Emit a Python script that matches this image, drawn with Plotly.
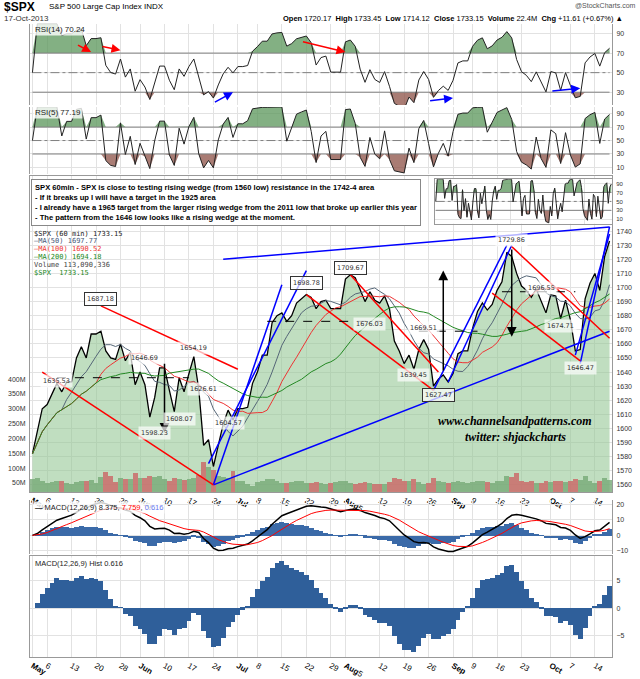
import plotly.graph_objects as go
import pandas as pd
import numpy as np

# ---------------- data ----------------
closes_may = [1582, 1597, 1614, 1617, 1625, 1632, 1626, 1633, 1633, 1650, 1658, 1650, 1667, 1667, 1669, 1655, 1650, 1649, 1660, 1648, 1654, 1631]
closes_jun = [1640, 1631, 1608, 1622, 1643, 1643, 1627, 1612, 1636, 1626, 1639, 1651, 1628, 1588, 1592, 1573, 1588, 1603, 1613, 1606]
closes_jul = [1614, 1614, 1615, 1632, 1640, 1652, 1652, 1675, 1680, 1682, 1676, 1680, 1689, 1692, 1695, 1693, 1685, 1690, 1691, 1685, 1685, 1685]
closes_aug = [1706, 1709, 1707, 1698, 1690, 1697, 1691, 1689, 1694, 1685, 1662, 1655, 1646, 1652, 1642, 1656, 1663, 1656, 1630, 1635, 1638, 1633]
closes_sep = [1639, 1653, 1655, 1655, 1671, 1683, 1689, 1684, 1688, 1698, 1704, 1725, 1722, 1710, 1701, 1698, 1693, 1699, 1691, 1682]
closes_oct = [1695, 1694, 1678, 1691, 1677, 1655, 1656, 1692, 1703, 1710, 1698, 1722, 1733]
closes = closes_may + closes_jun + closes_jul + closes_aug + closes_sep + closes_oct

volume_m = [120, 130, 110, 90, 100, 105, 110, 95, 85, 100, 110, 105, 115, 95, 140, 180, 150, 100, 130, 125, 120, 170,
            130, 135, 150, 140, 145, 120, 110, 130, 125, 115, 120, 130, 160, 260, 220, 200, 150, 140, 130, 190,
            110, 110, 80, 70, 100, 110, 120, 125, 110, 90, 95, 100, 110, 105, 95, 90, 100, 90, 85, 95, 100, 110,
            110, 90, 80, 90, 100, 95, 85, 80, 85, 100, 130, 120, 105, 110, 120, 100, 85, 90, 130, 110, 100, 95,
            100, 105, 100, 90, 100, 110, 105, 100, 95, 110, 105, 150, 140, 170, 110, 100, 105, 95, 90, 110,
            100, 105, 110, 100, 110, 120, 115, 150, 110, 95, 110, 130, 112]

tick_labels = ["<b>May</b>", "6", "13", "20", "28", "<b>Jun</b>", "10", "17", "24", "<b>Jul</b>", "8", "15", "22", "29",
               "<b>Aug</b>5", "12", "19", "26", "<b>Sep</b>", "9", "16", "23", "<b>Oct</b>", "7", "14"]
tick_dates = ["2013-05-01", "2013-05-06", "2013-05-13", "2013-05-20", "2013-05-28", "2013-06-03", "2013-06-10", "2013-06-17",
              "2013-06-24", "2013-07-01", "2013-07-08", "2013-07-15", "2013-07-22", "2013-07-29", "2013-08-01",
              "2013-08-12", "2013-08-19", "2013-08-26", "2013-09-03", "2013-09-09", "2013-09-16", "2013-09-23",
              "2013-10-01", "2013-10-07", "2013-10-14"]
price_ticks = [1560, 1570, 1580, 1590, 1600, 1610, 1620, 1630, 1640, 1650, 1660, 1670, 1680, 1690, 1700, 1710, 1720, 1730, 1740]

# trendlines: (date1, price1, date2, price2, colour, dash)
trendlines = [
    ("2013-06-24", 1560, "2013-10-17", 1669, "blue", "solid"),
    ("2013-06-26", 1720, "2013-10-17", 1743, "blue", "solid"),
    ("2013-06-24", 1560, "2013-07-15", 1702, "blue", "solid"),
    ("2013-06-21", 1575, "2013-07-22", 1712, "blue", "solid"),
    ("2013-08-27", 1627, "2013-09-18", 1730, "blue", "solid"),
    ("2013-08-30", 1633, "2013-09-19", 1730, "blue", "solid"),
    ("2013-10-09", 1646, "2013-10-17", 1743, "blue", "solid"),
    ("2013-10-08", 1652, "2013-10-17", 1738, "blue", "solid"),
    ("2013-05-21", 1687, "2013-07-01", 1642, "red", "solid"),
    ("2013-05-03", 1640, "2013-06-24", 1560, "red", "solid"),
    ("2013-08-02", 1709, "2013-08-28", 1640, "red", "solid"),
    ("2013-07-22", 1695, "2013-08-27", 1627, "red", "solid"),
    ("2013-09-19", 1729, "2013-10-17", 1664, "red", "solid"),
    ("2013-09-13", 1696, "2013-10-09", 1648, "red", "solid"),
    ("2013-05-08", 1636, "2013-06-17", 1636, "black", "dash"),
    ("2013-07-10", 1676, "2013-08-12", 1676, "black", "dash"),
    ("2013-08-22", 1669, "2013-09-10", 1669, "black", "dash"),
    ("2013-09-17", 1697, "2013-10-08", 1697, "black", "dash"),
]
arrows = [("2013-06-10", 1647, 1597), ("2013-08-29", 1640, 1712), ("2013-09-19", 1728, 1665)]
price_labels = [
    ("2013-05-21", 1692, "1687.18", True), ("2013-06-04", 1650, "1646.69", False), ("2013-06-18", 1657, "1654.19", False),
    ("2013-05-08", 1634, "1635.53", False), ("2013-06-06", 1597, "1598.23", False), ("2013-06-13", 1607, "1608.07", False),
    ("2013-06-20", 1628, "1626.61", False), ("2013-06-27", 1604, "1604.57", False), ("2013-06-24", 1553, "1560.33", False),
    ("2013-07-22", 1703, "1698.78", True), ("2013-08-02", 1714, "1709.67", True), ("2013-08-08", 1674, "1676.03", False),
    ("2013-08-23", 1671, "1669.51", False), ("2013-08-21", 1638, "1639.45", False), ("2013-08-28", 1624, "1627.47", True),
    ("2013-09-19", 1734, "1729.86", False), ("2013-09-27", 1700, "1696.55", False), ("2013-10-03", 1673, "1674.71", False),
    ("2013-10-09", 1643, "1646.47", False),
]

# ---------------- derived ----------------
dates = pd.bdate_range("2013-05-01", "2013-10-17")
dates = [d.strftime("%Y-%m-%d") for d in dates if d.strftime("%Y-%m-%d") not in ("2013-05-27", "2013-07-04", "2013-09-02")]
n = min(len(dates), len(closes), len(volume_m))
dates, closes, volume_m = dates[:n], closes[:n], volume_m[:n]
X = list(range(n))
def ix(d):
    return dates.index(d)

s = pd.Series(closes, dtype=float)
def rsi(series, p):
    d = series.diff()
    up = d.clip(lower=0).ewm(alpha=1/p, adjust=False).mean()
    dn = (-d.clip(upper=0)).ewm(alpha=1/p, adjust=False).mean()
    r = 100 - 100 / (1 + up / dn.replace(0, 1e-9))
    return r.fillna(50)
r14 = rsi(s, 5)
r5 = rsi(s, 2)
ma50 = s.rolling(7, min_periods=1).mean()
ma100 = s.rolling(14, min_periods=1).mean()
ma200 = s.rolling(28, min_periods=1).mean()
macd = s.ewm(span=12, adjust=False).mean() - s.ewm(span=26, adjust=False).mean()
sig = macd.ewm(span=9, adjust=False).mean()
hist = macd - sig

H = 679
def py(p): return 1 - p / H
def px(p): return (p - 30) / 582

fig = go.Figure()
GREEN_F = "rgba(90,150,90,0.75)"
BROWN_F = "rgba(140,80,70,0.75)"

def rsi_panel(r, ya, xa="x"):
    fig.add_trace(go.Scatter(x=X, y=[70]*n, xaxis=xa, yaxis=ya, mode="lines", line=dict(color="gray", width=1), hoverinfo="skip"))
    fig.add_trace(go.Scatter(x=X, y=np.maximum(r, 70), xaxis=xa, yaxis=ya, mode="lines", line=dict(width=0), fill="tonexty", fillcolor=GREEN_F, hoverinfo="skip"))
    fig.add_trace(go.Scatter(x=X, y=[30]*n, xaxis=xa, yaxis=ya, mode="lines", line=dict(color="gray", width=1), hoverinfo="skip"))
    fig.add_trace(go.Scatter(x=X, y=np.minimum(r, 30), xaxis=xa, yaxis=ya, mode="lines", line=dict(width=0), fill="tonexty", fillcolor=BROWN_F, hoverinfo="skip"))
    fig.add_trace(go.Scatter(x=X, y=[50]*n, xaxis=xa, yaxis=ya, mode="lines", line=dict(color="gray", width=1, dash="dashdot"), hoverinfo="skip"))
    fig.add_trace(go.Scatter(x=X, y=r, xaxis=xa, yaxis=ya, mode="lines", line=dict(color="#222", width=1)))

rsi_panel(r14, "y")
rsi_panel(r5, "y2")
rsi_panel(r5, "y7", "x3")

fig.add_trace(go.Bar(x=X, y=[v*1e6 for v in volume_m], xaxis="x", yaxis="y6",
                     marker_color=["#c66" if i > 0 and closes[i] < closes[i-1] else "#7a7" for i in X], marker_line_width=0, opacity=0.8))
fig.add_trace(go.Scatter(x=X, y=[1555]*n, xaxis="x", yaxis="y3", mode="lines", line=dict(width=0), hoverinfo="skip"))
fig.add_trace(go.Scatter(x=X, y=closes, xaxis="x", yaxis="y3", mode="lines", line=dict(color="black", width=1.3),
                         fill="tonexty", fillcolor="rgba(150,200,150,0.6)"))
fig.add_trace(go.Scatter(x=X, y=ma50, xaxis="x", yaxis="y3", mode="lines", line=dict(color="#556677", width=1)))
fig.add_trace(go.Scatter(x=X, y=ma100, xaxis="x", yaxis="y3", mode="lines", line=dict(color="#e33", width=1)))
fig.add_trace(go.Scatter(x=X, y=ma200, xaxis="x", yaxis="y3", mode="lines", line=dict(color="#282", width=1)))

fig.add_trace(go.Bar(x=X, y=hist, xaxis="x2", yaxis="y4", marker_color="#3b6aa8", marker_line_width=0))
fig.add_trace(go.Scatter(x=X, y=macd, xaxis="x2", yaxis="y4", mode="lines", line=dict(color="black", width=1.5)))
fig.add_trace(go.Scatter(x=X, y=sig, xaxis="x2", yaxis="y4", mode="lines", line=dict(color="red", width=1)))
fig.add_trace(go.Bar(x=X, y=hist, xaxis="x2", yaxis="y5", marker_color="#2f5f9a", marker_line_width=0))

shapes, ann = [], []
for d1, p1, d2, p2, c, dash in trendlines:
    shapes.append(dict(type="line", xref="x", yref="y3", x0=ix(d1), y0=p1, x1=ix(d2), y1=p2,
                       line=dict(color=c, width=1.5 if dash == "solid" else 1, dash=dash)))
for d, p0, p1 in arrows:
    ann.append(dict(xref="x", yref="y3", x=ix(d), y=p1, ax=ix(d), ay=p0, axref="x", ayref="y3",
                    showarrow=True, arrowhead=2, arrowsize=1.3, arrowwidth=1.5, arrowcolor="black", text=""))
for d, p, t, circ in price_labels:
    ann.append(dict(xref="x", yref="y3", x=ix(d), y=p, text=t, showarrow=False, font=dict(size=6.5, color="#333", family="DejaVu Sans"),
                    bgcolor="rgba(255,255,255,0.7)", bordercolor="#333" if circ else "rgba(0,0,0,0)", borderwidth=1, borderpad=2))
for d1, v1, d2, v2, c in [("2013-05-14", 79, "2013-05-17", 71, "red"), ("2013-05-21", 77, "2013-05-28", 73, "red"),
                          ("2013-07-19", 82, "2013-08-01", 71, "red"), ("2013-06-24", 19, "2013-06-28", 30, "blue"),
                          ("2013-08-26", 21, "2013-09-03", 24, "blue"), ("2013-10-01", 31, "2013-10-09", 34, "blue")]:
    ann.append(dict(xref="x", yref="y", x=ix(d2), y=v2, ax=ix(d1), ay=v1, axref="x", ayref="y", showarrow=True,
                    arrowhead=2, arrowsize=1.2, arrowwidth=1.5, arrowcolor=c, text=""))

def txt(x, y, t, size=9, color="black", xanchor="left", yanchor="middle", font="Liberation Sans", **kw):
    ann.append(dict(xref="paper", yref="paper", x=px(x), y=py(y), text=t, showarrow=False, xanchor=xanchor, yanchor=yanchor,
                    font=dict(size=size, color=color, family=font), **kw))

txt(2, 7, "<b>$SPX</b>", 12)
txt(47, 7, "S&P 500 Large Cap Index <span style='font-size:8px'>INDX</span>", 8)
txt(2, 19, "17-Oct-2013", 8, "#333")
txt(638, 6, "@StockCharts.com", 7, "#555", xanchor="right")
txt(625, 19, "<b>Open</b> 1720.17  <b>High</b> 1733.45  <b>Low</b> 1714.12  <b>Close</b> 1733.15  <b>Volume</b> 22.4M  <b>Chg</b> +11.61 (+0.67%) ▲", 7.5, xanchor="right")
txt(33, 30, "RSI(14) 70.24", 8, "#222", bgcolor="rgba(255,255,255,0.8)")
txt(33, 114, "RSI(5) 77.19", 8, "#222", bgcolor="rgba(255,255,255,0.8)")
txt(33, 513, "<b>—</b> MACD(12,26,9) 8.375, <span style='color:red'>7.759</span>, <span style='color:#6677ee'>0.616</span>", 7.5, "#222", bgcolor="rgba(255,255,255,0.8)")
txt(33, 569, "MACD(12,26,9) Hist 0.616", 7.5, "#222", bgcolor="rgba(255,255,255,0.8)")
for i, (t, c) in enumerate([("$SPX (60 min) 1733.15", "#222"), ("—MA(50) 1697.77", "#445577"), ("—MA(100) 1690.52", "#e33"),
                            ("—MA(200) 1694.18", "#282"), ("Volume 113,090,336", "#444"), ("$SPX  1733.15", "#282")]):
    txt(32, 236 + i * 8, t, 7, c, font="DejaVu Sans Mono")
for i, v in enumerate(["400M", "350M", "300M", "250M", "200M", "150M", "100M", "50M"]):
    txt(28, 383 + i * 15, v, 7, "#333", xanchor="right")
ann.append(dict(xref="paper", yref="paper", x=px(31), y=py(181), xanchor="left", yanchor="top", align="left", showarrow=False,
                text="<b>SPX 60min - SPX is close to testing rising wedge (from 1560 low) resistance in the 1742-4 area<br>"
                     "- If it breaks up I will have a target in the 1925 area<br>"
                     "- I already have a 1965 target from the larger rising wedge from the 2011 low that broke up earlier this year<br>"
                     "- The pattern from the 1646 low looks like a rising wedge at the moment.</b>",
                font=dict(size=7.6, family="Liberation Sans Narrow, Liberation Sans", color="black"),
                bgcolor="white", bordercolor="#888", borderwidth=1, borderpad=3))
txt(515, 425, "<i><b>www.channelsandpatterns.com</b></i>", 12, font="Liberation Serif", xanchor="center")
txt(515, 442, "<i><b>twitter: shjackcharts</b></i>", 12, font="Liberation Serif", xanchor="center")

tv = [ix(d) for d in tick_dates]
grid = "#e2e2e2"
ax_common = dict(range=[-0.5, n - 0.5], showgrid=True, gridcolor=grid, tickvals=tv, ticktext=tick_labels,
                 ticks="", zeroline=False, showline=True, linecolor="#999", mirror=True)
yc = dict(side="right", showgrid=True, gridcolor=grid, zeroline=False, tickfont=dict(size=7, color="#333"),
          showline=True, linecolor="#999", mirror=True, ticks="", ticklabelstandoff=2)
fig.update_layout(
    width=640, height=679, margin=dict(l=30, r=28, t=0, b=0), paper_bgcolor="white", plot_bgcolor="white",
    showlegend=False, bargap=0, shapes=shapes, annotations=ann, font=dict(family="Liberation Sans", size=8),
    xaxis=dict(domain=[0, 1], anchor="y3", tickfont=dict(size=8, color="black"), **ax_common),
    xaxis2=dict(domain=[0, 1], anchor="y5", matches="x", tickfont=dict(size=8, color="black"), **ax_common),
    xaxis3=dict(domain=[px(435), 1], anchor="y7", range=[-0.5, n - 0.5], showticklabels=False, showgrid=True, gridcolor=grid,
                zeroline=False, showline=True, linecolor="#999", mirror=True),
    yaxis=dict(domain=[py(106), py(24)], range=[17, 100], anchor="x", tickvals=[30, 50, 70, 90], **yc),
    yaxis2=dict(domain=[py(176), py(108)], range=[0, 100], anchor="x", tickvals=[10, 30, 50, 70, 90], **yc),
    yaxis3=dict(domain=[py(497), py(178)], range=[1555, 1779], anchor="x", tickvals=price_ticks, **yc),
    yaxis6=dict(domain=[py(497), py(178)], range=[20e6, 2600e6], overlaying="y3", anchor="x", visible=False),
    yaxis4=dict(domain=[py(560), py(505)], anchor="x2", dtick=10, **yc),
    yaxis5=dict(domain=[py(664), py(562)], anchor="x2", **yc),
    yaxis7=dict(domain=[py(226), py(181)], range=[0, 100], anchor="x3", tickvals=[10, 30, 50, 70, 90],
                **{**yc, "tickfont": dict(size=6, color="#333")}),
)
fig.write_html("out.html", config={"displayModeBar": False},
               post_script="document.body.style.margin='0';document.body.style.overflow='hidden';")
